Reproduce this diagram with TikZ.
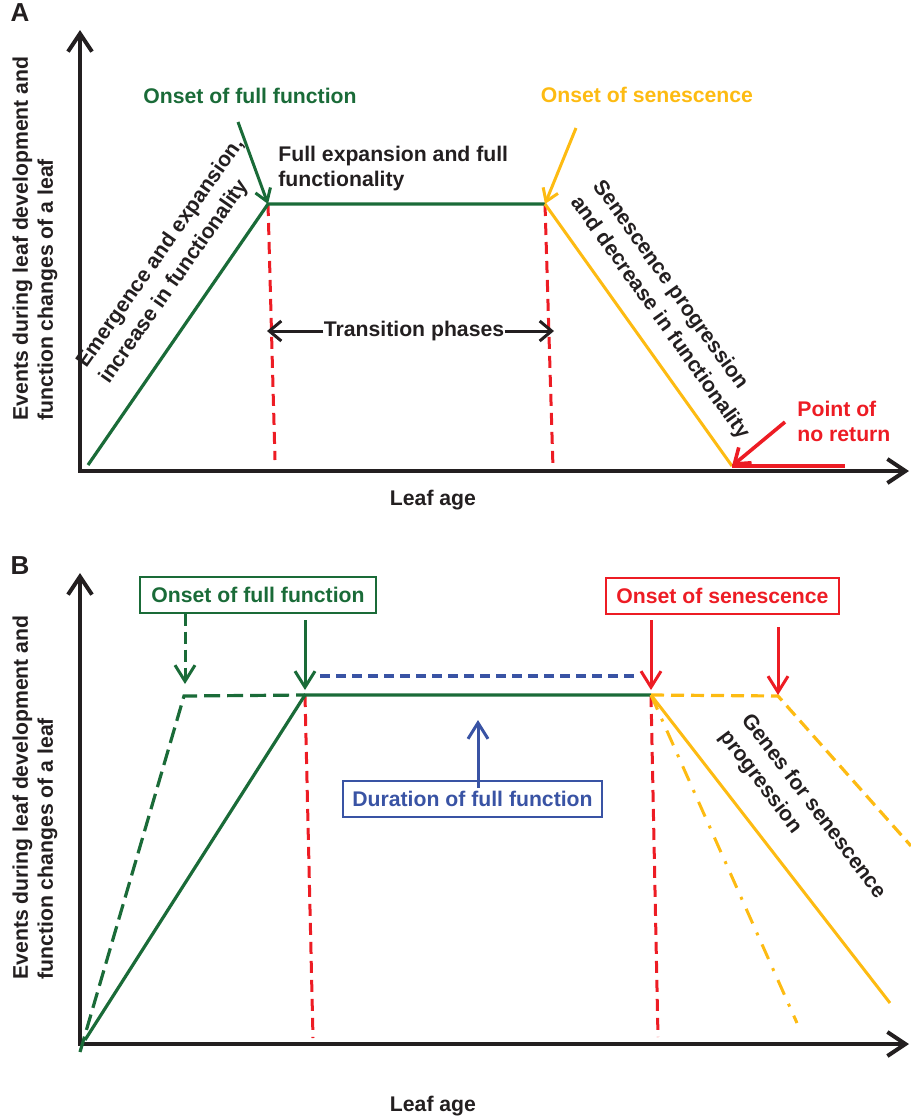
\documentclass[tikz,border=0pt]{standalone}
\usepackage{fontspec}
\setmainfont{Liberation Sans}
\usetikzlibrary{arrows.meta}
\definecolor{leafgreen}{HTML}{1A6B38}
\definecolor{sengold}{HTML}{FDBB12}
\definecolor{pnrred}{HTML}{ED1C24}
\definecolor{durblue}{HTML}{3953A4}
\definecolor{ink}{HTML}{231F20}

\begin{document}
\begin{tikzpicture}[
  x=0.5pt, y=-0.5pt,
  lbl/.style={font=\fontsize{10.6}{12.5}\selectfont\bfseries, inner sep=0pt, text=ink},
  slant/.style={lbl, font=\fontsize{10.6}{13.8}\selectfont\bfseries, align=left, rotate=#1},
  panel/.style={font=\fontsize{13}{15}\selectfont\bfseries, inner sep=0pt, text=ink},
  tagbox/.style={lbl, draw=#1, line width=0.6pt, text=#1, minimum height=18pt},
  axes/.style={ink, line width=2pt, line join=miter,
    {Straight Barb[length=9pt, width=12pt]}-{Straight Barb[length=9pt, width=12pt]}},
  gline/.style={leafgreen, line width=1.6pt},
  yline/.style={sengold, line width=1.5pt},
  rdash/.style={pnrred, line width=1.5pt, dash pattern=on 6pt off 3.5pt},
  gdash/.style={leafgreen, line width=1.6pt, dash pattern=on 8pt off 3.5pt},
  ydash/.style={sengold, line width=1.6pt, dash pattern=on 6.5pt off 3.5pt},
  ydashdot/.style={sengold, line width=1.5pt, dash pattern=on 8pt off 5pt on 1.5pt off 5pt},
  bdash/.style={durblue, line width=1.6pt, dash pattern=on 5pt off 3pt},
  harr/.style={-{Straight Barb[length=6pt, width=8pt]}, line width=1.5pt},
  varr/.style={-{Straight Barb[length=8pt, width=10pt]}, line width=1.5pt},
]
\useasboundingbox (0,0) rectangle (911,1120);

% ---- panel A ----
\node[panel] (labA) at (20,13) {A};
\coordinate (oA) at (80,471);
\coordinate (yA) at (80,30);
\coordinate (xA) at (909,471);
\draw[axes] (yA) -- (oA) -- (xA);
\node[lbl, rotate=90, anchor=west, align=left] (ylabA) at (35,421)
  {Events during leaf development and\\function changes of a leaf};
\node[lbl] (ageA) at (433,500) {Leaf age};

% curve corners
\coordinate (a0) at (88,465);
\coordinate (a1) at (268,204);
\coordinate (a2) at (545,204);
\coordinate (a3) at (732,466);
\coordinate (t1) at (275,460);
\coordinate (t2) at (553,468);
\draw[rdash] (a1) -- (t1);
\draw[rdash] (a2) -- (t2);
\draw[gline] (a0) -- (a1) -- (a2);
\draw[yline] (a2) -- (a3);

% onsets
\node[lbl, text=leafgreen] (ofA) at (250,96) {Onset of full function};
\coordinate (gA) at (238,122);
\draw[harr, leafgreen] (gA) -- (a1);
\node[lbl, text=sengold] (osA) at (647,95) {Onset of senescence};
\coordinate (sA) at (576,128);
\draw[harr, sengold] (sA) -- (a2);

\node[lbl, anchor=north west, align=left] (fullA) at (278,146)
  {Full expansion and full\\functionality};
\node[slant=55] (emerA) at (172,261)
  {Emergence and expansion,\\increase in functionality};
\node[slant=-54.5] (senA) at (671,310)
  {Senescence progression\\and decrease in functionality};

% transition phases
\node[lbl] (trans) at (414,331) {Transition phases};
\coordinate (tl) at (267,331);
\coordinate (tr) at (554,331);
\draw[harr, ink, -{Straight Barb[length=6pt, width=10pt]}] (trans.west) -- (tl);
\draw[harr, ink, -{Straight Barb[length=6pt, width=10pt]}] (trans.east) -- (tr);

% point of no return
\node[lbl, text=pnrred, anchor=north west, align=left] (pnr) at (797,401)
  {Point of\\no return};
\coordinate (pA) at (785,422);
\coordinate (pB) at (845,466);
\draw[pnrred, line width=1.8pt] (a3) -- (pB);
\draw[harr, pnrred, line width=1.8pt, -{Straight Barb[length=7pt, width=10pt]}] (pA) -- (a3);

% ---- panel B ----
\node[panel] (labB) at (20,566) {B};
\coordinate (oB) at (80,1044);
\coordinate (yB) at (80,573);
\coordinate (xB) at (909,1044);
\draw[axes] (yB) -- (oB) -- (xB);
\node[lbl, rotate=90, anchor=west, align=left] (ylabB) at (35,980)
  {Events during leaf development and\\function changes of a leaf};
\node[lbl] (ageB) at (433,1106) {Leaf age};

\coordinate (b0) at (85,1040);
\coordinate (b1) at (305,695);
\coordinate (b2) at (651,695);
\coordinate (c0) at (80,1052);
\coordinate (c1) at (184,696);
\coordinate (d1) at (778,696);
\coordinate (d2) at (911,846);
\coordinate (e1) at (890,1003);
\coordinate (e2) at (797,1023);
\coordinate (u1) at (313,1038);
\coordinate (u2) at (658,1037);
\draw[rdash] (b1) -- (u1);
\draw[rdash] (b2) -- (u2);
\draw[gdash] (c0) -- (c1) -- (b1);
\draw[gline] (b0) -- (b1) -- (b2);
\draw[ydash] (b2) -- (d1) -- (d2);
\draw[yline] (b2) -- (e1);
\draw[ydashdot] (b2) -- (e2);

% boxes and their arrows
\node[tagbox=leafgreen, minimum width=118pt] (ofB) at (258,595) {Onset of full function};
\node[tagbox=pnrred, minimum width=116.5pt] (osB) at (722.5,596) {Onset of senescence};
\node[tagbox=durblue, minimum width=129.5pt] (dur) at (472.5,799) {Duration of full function};

\coordinate (gdt) at (185,684);
\draw[varr, leafgreen, dash pattern=on 6pt off 3pt] (ofB.south -| gdt) -- (gdt);
\coordinate (gs0) at (305,620);
\coordinate (gst) at (305,690);
\draw[varr, leafgreen] (gs0) -- (gst);
\coordinate (r10) at (651,620);
\coordinate (r1t) at (651,690);
\draw[varr, pnrred] (r10) -- (r1t);
\coordinate (r20) at (778,627);
\coordinate (r2t) at (778,695);
\draw[varr, pnrred] (r20) -- (r2t);

\coordinate (bd0) at (320,676);
\coordinate (bd1) at (637,676);
\draw[bdash] (bd0) -- (bd1);
\coordinate (bb0) at (478,788);
\coordinate (bbt) at (478,720);
\draw[varr, durblue] (bb0) -- (bbt);

\node[slant=-53] (genes) at (802,815)
  {Genes for senescence\\progression};

\end{tikzpicture}
\end{document}
